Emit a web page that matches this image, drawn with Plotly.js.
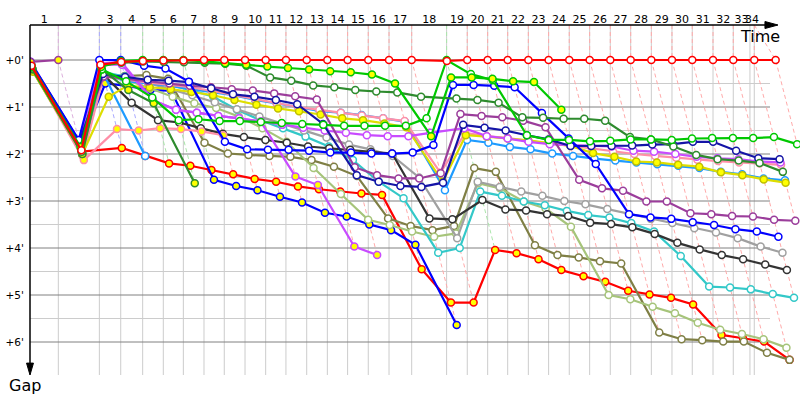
<!DOCTYPE html>
<html><head><meta charset="utf-8">
<script src="https://cdn.plot.ly/plotly-3.0.1.min.js"></script>
<style>html,body{margin:0;padding:0;background:#fff}#chart{width:800px;height:400px}</style>
</head><body><div id="chart"></div>
<script>
// Lap labels (top axis)
const lapLabels = ['1','2','3','4','5','6','7','8','9','10','11','12','13','14','15','16','17','18','19','20','21','22','23','24','25','26','27','28','29','30','31','32','33','34'];
// Leader's race time (minutes) at the end of laps 0..34
const leaderTimes = [0,2.36,5.78,7.56,9.39,11.11,12.78,14.5,16.19,17.92,19.64,21.33,23.06,24.78,26.47,28.19,29.92,31.81,34.72,36.44,38.14,39.81,41.53,43.22,44.94,46.64,48.36,50.06,51.78,53.5,55.19,56.92,58.61,60.36,62.14];
const raceEnd = 60; // race clock limit (minutes)
const gapTicks = [0,1,2,3,4,5,6];
const gapTickText = ["+0'","+1'","+2'","+3'","+4'","+5'","+6'"];

// Gap to leader (minutes) per lap, lap 0..last completed lap
const RY  = [0.2,1.95,1.87,2.04,2.2,2.25,2.34,2.43,2.53,2.59,2.69,2.75,2.8,2.84,2.87,4.45,5.16,5.16,4.04,4.11,4.24,4.47,4.6,4.72,4.91,4.99,5.06,5.2,5.85,5.92,5.99,6.38];
const BY  = [0.1,1.8,0.5,0.55,0.64,0.65,2.55,2.68,2.77,2.91,3.03,3.25,3.33,3.5,3.62,3.93,5.64];
const OL  = [0.18,1.98,0.3,0.34,0.32,0.4,1.76,1.99,2.02,2.04,2.06,2.13,2.27,2.47,3.37,3.53,3.62,3.53,2.3,2.38,3.94,4.15,4.2,4.28,4.33,5.8,5.94,5.96,5.99,5.99,6.23,6.38];
const LO  = [0.2,2.0,0.3,0.42,0.6,0.78,0.92,1.02,1.2,1.45,1.74,2.3,2.85,3.4,3.51,3.65,3.76,3.69,2.62,2.73,3.01,3.16,3.55,5.0,5.09,5.25,5.39,5.59,5.74,5.83,5.94,6.12];
const CY  = [0.15,1.95,0.25,0.35,0.46,0.53,0.64,0.78,1.06,1.28,1.45,1.63,1.84,2.13,2.59,2.94,4.1,4.0,2.8,2.89,3.01,3.09,3.21,3.3,3.35,3.47,3.65,4.17,4.82,4.84,4.88,4.98,5.06];
const GR  = [0.2,2.0,0.3,0.4,0.5,0.62,0.75,0.9,1.05,1.2,1.35,1.5,1.65,1.8,1.9,2.04,2.5,3.79,2.59,2.7,2.8,2.89,3.0,3.07,3.17,3.28,3.38,3.47,3.58,3.67,3.79,3.97,4.1];
const BK  = [0.22,2.02,0.3,0.91,1.28,1.33,1.45,1.57,1.64,1.7,1.76,1.84,1.88,1.91,1.95,1.99,3.37,3.39,2.98,3.18,3.2,3.28,3.32,3.46,3.49,3.56,3.7,3.89,4.03,4.15,4.24,4.35,4.47];
const LB1 = [0.18,1.9,0.25,2.04];
const LB  = [0.2,1.95,0.3,0.45,0.5,0.55,0.62,0.68,0.75,0.85,0.92,1.0,1.09,1.12,1.17,1.24,1.31,2.77,1.7,1.76,1.85,1.9,1.99,2.04,2.1,2.14,2.18,2.22,2.25,2.3,2.38,2.43,2.52,2.56];
const PK  = [0.15,2.05,0.35,0.42,0.48,0.53,0.58,0.66,0.74,0.83,0.92,1.0,1.06,1.12,1.18,1.24,1.3,2.4,1.55,1.62,1.66,1.72,1.78,1.82,1.88,1.95,2.0,2.04,2.08,2.12,2.15,2.18,2.2,2.23];
const PKY = [0.2,2.13,1.47,1.5,1.45,1.47,1.52,1.6];
const YE  = [0.25,2.0,0.78,0.55,0.58,0.62,0.68,0.75,0.85,0.95,1.03,1.09,1.16,1.24,1.28,1.35,1.43,2.59,1.6,1.63,1.67,1.71,1.77,1.83,1.98,2.06,2.16,2.18,2.23,2.27,2.39,2.45,2.54,2.61];
const V1  = [0.03,1.75,0.07,0.04,0.85,1.06,1.12,1.19,1.24,1.31,2.48,2.66,3.97,4.15];
const V2  = [0.05,1.78,0.1,0.1,0.86,1.06,1.12,1.19,1.24,1.31,1.38,1.44,1.5,1.55,1.6,1.62,1.62,1.55,1.45,1.62,1.67,1.74,1.79,1.81,1.82,1.84,1.93,1.95,2.0,2.06,2.09,2.11,2.16,2.18];
const P1  = [0.06,1.72,0.35,0.4,0.45,0.5,0.55,0.58,0.62,0.65,0.71,0.77,0.84,2.28,2.45,2.52,2.52,2.41,1.15,1.19,1.22,1.29,1.43,2.55,2.73,2.78,3.01,3.01,3.26,3.28,3.32,3.33,3.4,3.42];
const NB  = [0.08,1.75,0.3,0.36,0.42,0.44,0.47,0.6,0.73,0.78,0.85,0.94,1.36,2.45,2.59,2.68,2.7,2.61,1.38,1.44,1.5,1.6,1.69,1.83,1.83,1.83,1.82,1.8,1.79,1.74,1.74,1.93,2.09,2.11];
const B1  = [0.04,1.7,0,0,0.12,0.18,0.46,1.74,1.9,1.91,1.91,1.93,1.97,1.97,1.99,1.99,1.97,1.81,0.53,0.53,0.55,0.58,1.13,1.67,2.21,3.28,3.35,3.38,3.45,3.51,3.6,3.65,3.76];
const DG2 = [0.2,2.0,0.2,0.64,0.92,2.62];
const DG  = [0.18,1.95,0.12,0.06,0.03,0.04,0.05,0.06,0.08,0.12,0.37,0.44,0.54,0.58,0.64,0.67,0.69,0.78,0.82,0.85,0.91,1.22,1.23,1.25,1.25,1.29,1.64,1.69,1.84,2.02,2.11,2.14,2.19,2.38];
const G2  = [0.15,1.9,0.2,0.45,0.8,1.28,1.26,1.3,1.3,1.32,1.34,1.36,1.38,1.4,1.4,1.4,1.4,1.24,0,0.3,0.43,1.6,1.7,1.7,1.73,1.72,1.69,1.69,1.7,1.67,1.66,1.66,1.66,1.64,1.79];
const G1  = [0.1,1.85,0.15,0.02,0,0,0,0.03,0.07,0.1,0.14,0.17,0.2,0.24,0.26,0.31,0.5,1.62,0.37,0.37,0.4,0.45,0.47,1.06];
const LEAD1 = [0.04,0];
const RED = [0.12,1.92,0.1,0.04,0.02,0.01,0.01,0,0,0,0,0,0,0,0,0,0,0,0.02,0,0,0,0,0,0,0,0,0,0,0,0,0,0,0,0];

const Y = '#ffff00', W = '#ffffff';
const series = [
  {g:RY,c:'#ff0000',f:Y},{g:BY,c:'#0000ff',f:Y},{g:OL,c:'#7f7f45',f:W},{g:LO,c:'#a6c47a',f:W},
  {g:CY,c:'#33c8c8',f:W},{g:GR,c:'#a0a0a0',f:W},{g:BK,c:'#333333',f:W},{g:LB1,c:'#1e9bff',f:W},
  {g:LB,c:'#1e9bff',f:W},{g:PK,c:'#ff8fa8',f:W},{g:PKY,c:'#ff8fa8',f:Y},{g:YE,c:'#dede00',f:Y,o:'#c0c000'},
  {g:V1,c:'#c84bff',f:Y},{g:V2,c:'#c84bff',f:W},{g:P1,c:'#9b3d9b',f:W},{g:NB,c:'#1414a6',f:W},
  {g:B1,c:'#0000ff',f:W},{g:DG2,c:'#2e8b2e',f:Y},{g:DG,c:'#2e8b2e',f:W},{g:G2,c:'#00c800',f:W},
  {g:G1,c:'#00c800',f:Y},{g:LEAD1,c:'#9b3d9b',f:Y},{g:RED,c:'#ff0000',f:W}
];
const lightOf = {'#ff0000':'#ffaaaa','#0000ff':'#aaaaff','#00c800':'#aae6aa','#9b3d9b':'#ddb0dd'};
const yTop = -0.745, yBot = 6.702, xRight = 64.17, gridRight = 61.67;

const traces = [];
// dashed lap lines: from the leader's crossing down to the last car of that lap
for (let k = 1; k < leaderTimes.length; k++) {
  let minG = Infinity, lc = null, maxG = 0;
  series.forEach(s => {
    if (s.g.length > k) {
      if (s.g[k] < minG) { minG = s.g[k]; lc = s.c; }
      if (s.g[k] > maxG) maxG = s.g[k];
    }
  });
  const tTop = leaderTimes[k-1] > raceEnd ? leaderTimes[k-1] : leaderTimes[k];
  traces.push({x:[tTop, leaderTimes[k], leaderTimes[k] + maxG], y:[yTop, 0, maxG],
    mode:'lines', line:{color:lightOf[lc] || '#ffaaaa', width:1, dash:'4px,3px'}, hoverinfo:'skip'});
}
series.forEach(s => {
  traces.push({
    x: s.g.map((g,i) => leaderTimes[i] + g), y: s.g,
    mode:'lines+markers', line:{color:s.c, width:2.2},
    marker:{size:7, color:s.f, line:{color:s.o || s.c, width:1.5}}, hoverinfo:'skip'
  });
});

// label positions: midpoints between successive grid times
const gridTimes = [0].concat(leaderTimes.slice(1,33), [raceEnd, leaderTimes[33]]);
const labelPos = lapLabels.map((_,i) => (gridTimes[i] + gridTimes[i+1]) / 2);
const vLines = leaderTimes.slice(1,34).concat([raceEnd]);

const shapes = [];
vLines.forEach(t => shapes.push({type:'line', layer:'below', xref:'x', yref:'y', x0:t, x1:t, y0:yTop, y1:yBot, line:{color:'#cccccc', width:1}}));
for (let h = 0.5; h < 6; h += 1) shapes.push({type:'line', layer:'below', xref:'x', yref:'y', x0:0, x1:gridRight, y0:h, y1:h, line:{color:'#cccccc', width:1}});
gapTicks.forEach(h => shapes.push({type:'line', layer:'below', xref:'x', yref:'y', x0:0, x1:gridRight, y0:h, y1:h, line:{color:'#808080', width:1}}));
// axes with arrows
shapes.push({type:'line', xref:'paper', yref:'paper', x0:0, x1:0.962, y0:1, y1:1, line:{color:'#000', width:1.5}});
shapes.push({type:'path', xref:'paper', yref:'paper', path:'M 0.9545 0.99 L 0.9714 1 L 0.9545 1.01 Z', fillcolor:'#000', line:{color:'#000', width:1}});
shapes.push({type:'line', xref:'paper', yref:'paper', x0:0, x1:0, y0:1, y1:0.02, line:{color:'#000', width:1.5}});
shapes.push({type:'path', xref:'paper', yref:'paper', path:'M -0.0045 0.034 L 0 0 L 0.0045 0.034 Z', fillcolor:'#000', line:{color:'#000', width:1}});

const layout = {
  width:800, height:400, margin:{l:30, r:0, t:25, b:25},
  paper_bgcolor:'#fff', plot_bgcolor:'#fff', showlegend:false, hovermode:false,
  font:{family:'DejaVu Sans, Verdana, sans-serif', size:11, color:'#000'},
  xaxis:{side:'top', range:[0, xRight], tickmode:'array', tickvals:labelPos, ticktext:lapLabels,
    showgrid:false, zeroline:false, showline:false, ticks:'', ticklabelstandoff:-1,
    tickangle:0, tickfont:{size:11}, fixedrange:true},
  yaxis:{range:[yBot, yTop], tickmode:'array', tickvals:gapTicks, ticktext:gapTickText,
    showgrid:false, zeroline:false, showline:false, ticks:'outside', ticklen:3,
    tickcolor:'rgba(0,0,0,0)', tickfont:{size:10.5}, fixedrange:true},
  shapes: shapes,
  annotations:[
    {xref:'x', yref:'y', x:60.83, y:-0.5, text:'Time', showarrow:false, font:{size:16}, xanchor:'center', yanchor:'middle'},
    {xref:'paper', yref:'paper', x:-0.007, y:-0.03, text:'Gap', showarrow:false, font:{size:16}, xanchor:'center', yanchor:'middle'}
  ]
};
Plotly.newPlot('chart', traces, layout, {displayModeBar:false, staticPlot:true});
</script>
</body></html>
